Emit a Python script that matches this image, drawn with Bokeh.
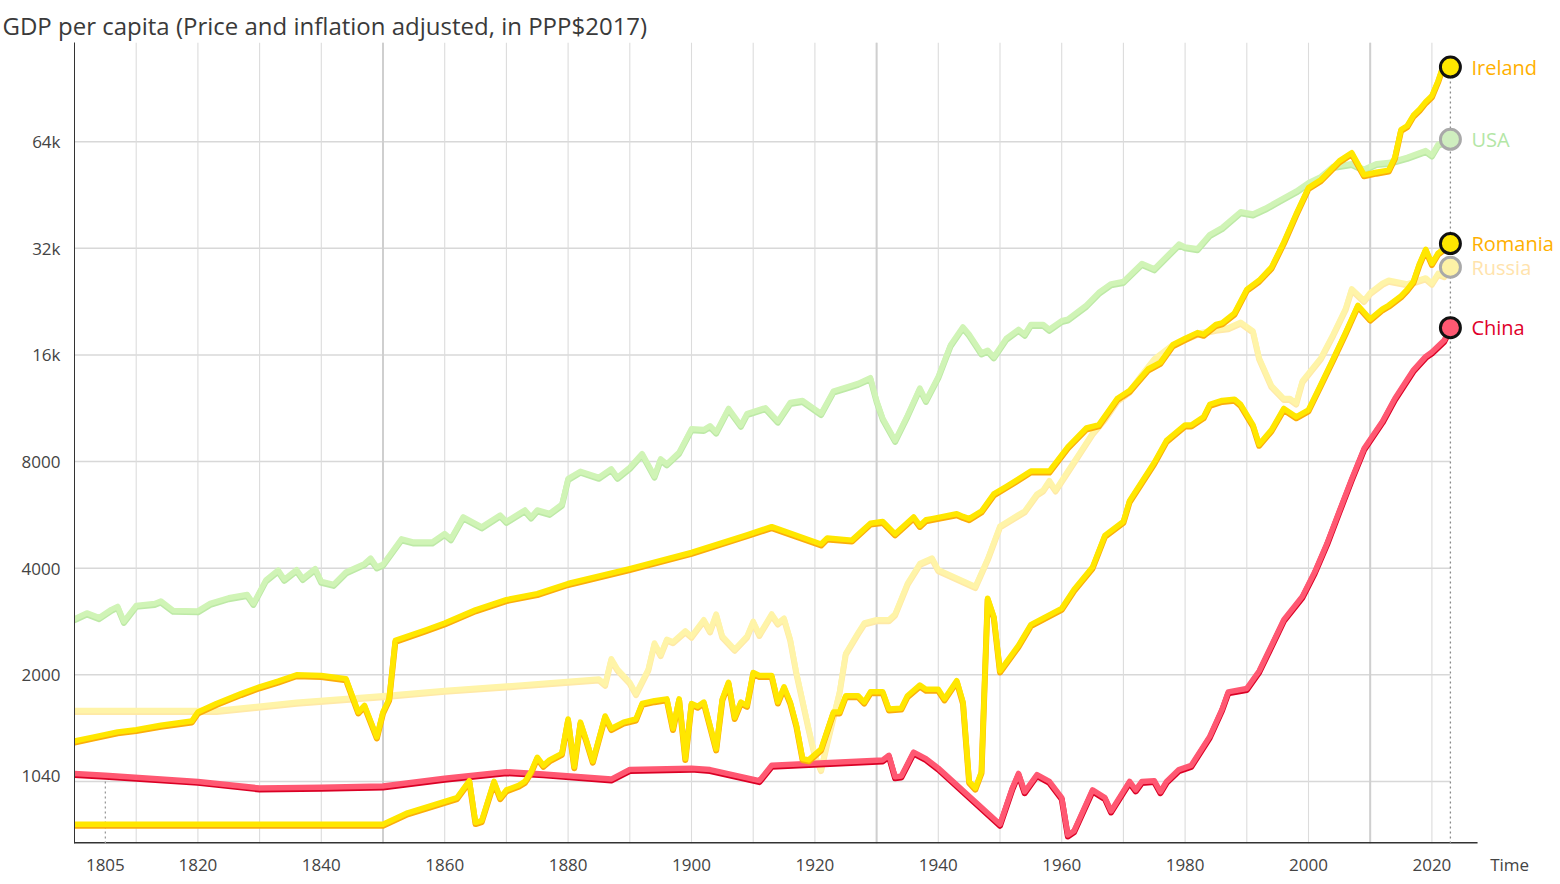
from bokeh.plotting import figure
from bokeh.models import FixedTicker, Range1d
from bokeh.core.properties import value
from bokeh.embed import file_html
from bokeh.resources import INLINE

# ---------------- data ----------------
ireland_years = [1800,1803,1807,1810,1814,1819,1820,1823,1827,1830,1833,1836,1840,1844,1846,1847,1849,1850,1851,1852,
                 1857,1860,1865,1870,1875,1880,1890,1900,1909,1913,1921,1922,1926,1929,1931,1933,1936,1937,1938,1939,
                 1943,1944,1945,1947,1949,1951,1955,1958,1961,1964,1966,1969,1971,1974,1976,1978,1980,1982,1983,1985,
                 1986,1988,1990,1992,1994,1996,1998,2000,2002,2005,2007,2009,2011,2013,2014,2015,2016,2017,2018,2019,
                 2020,2021,2022,2023]
ireland_gdp = [1300,1334,1380,1400,1440,1480,1570,1660,1770,1850,1920,2000,1990,1950,1570,1640,1335,1570,1710,2500,
               2680,2800,3050,3260,3390,3620,3990,4430,4970,5240,4680,4870,4800,5360,5420,5000,5580,5280,5480,5520,
               5700,5600,5520,5800,6480,6800,7520,7520,8800,9950,10150,12050,12700,14600,15250,17100,17800,18500,18300,19500,
               19700,21000,24500,26000,28300,33300,40000,47500,50000,56500,59600,51600,52500,53200,57800,69300,71000,76000,79000,83000,
               86300,95000,107000,104000]

romania_years = [1800,1850,1854,1862,1864,1865,1866,1868,1869,1870,1872,1873,1874,1875,1876,1877,1879,1880,1881,1882,
                 1883,1884,1886,1887,1889,1891,1892,1894,1896,1897,1898,1899,1900,1901,1902,1904,1905,1906,1907,1908,
                 1909,1910,1911,1913,1914,1915,1916,1917,1918,1919,1921,1923,1924,1925,1927,1928,1929,1931,1932,1934,
                 1935,1937,1938,1940,1941,1943,1944,1945,1946,1947,1948,1949,1950,1953,1955,1957,1960,1962,1965,1967,
                 1970,1971,1975,1977,1980,1981,1983,1984,1986,1988,1989,1991,1992,1994,1996,1998,2000,2002,2004,2006,
                 2008,2010,2012,2013,2015,2016,2017,2018,2019,2020,2021,2022,2023]
romania_gdp = [757,757,815,900,1005,765,775,1000,900,946,975,1000,1065,1170,1110,1150,1200,1500,1100,1470,
               1300,1140,1530,1410,1470,1500,1660,1690,1710,1410,1710,1160,1660,1630,1675,1235,1710,1905,1515,1675,
               1640,2030,1990,1990,1675,1850,1675,1440,1160,1150,1235,1570,1570,1745,1745,1675,1790,1790,1600,1610,
               1745,1870,1820,1820,1710,1925,1675,1000,957,1065,3290,2920,2050,2420,2770,2890,3080,3480,4030,4950,
               5420,6200,7950,9180,10150,10150,10700,11600,11900,12000,11600,10150,8950,9830,11300,10700,11200,13200,15600,18500,
               22100,20200,21600,22100,23500,24500,25800,29000,31800,29000,31000,32000,33000]

russia_years = [1800,1823,1836,1850,1860,1872,1885,1886,1887,1888,1890,1891,1893,1894,1895,1896,1897,1899,1900,1902,
                1903,1904,1905,1907,1909,1910,1911,1913,1914,1915,1916,1917,1919,1920,1921,1922,1924,1925,1927,1928,
                1930,1932,1933,1935,1937,1939,1940,1946,1948,1950,1951,1954,1956,1957,1958,1959,1961,1963,1965,1967,
                1969,1971,1973,1975,1978,1980,1982,1985,1987,1989,1991,1992,1994,1996,1997,1998,1999,2002,2004,2006,
                2007,2009,2010,2012,2013,2016,2019,2020,2021,2022,2023]
russia_gdp = [1585,1585,1673,1745,1807,1870,1945,1880,2220,2075,1905,1770,2075,2460,2280,2520,2480,2660,2570,2860,
              2660,2970,2570,2360,2570,2830,2600,2970,2800,2890,2520,2030,1410,1185,1080,1290,1790,2300,2630,2800,
              2860,2860,2970,3620,4120,4270,3960,3550,4250,5260,5390,5800,6480,6650,7070,6650,7520,8500,9620,10600,
              11900,12650,14100,15600,17100,17800,18400,18900,19100,19800,18700,15700,13100,12050,12050,11700,13500,15700,18300,21600,
              24600,22800,24000,25500,26000,25400,26400,25500,27200,26800,28300]

china_years = [1800,1805,1820,1830,1840,1850,1860,1870,1876,1887,1890,1900,1903,1911,1913,1931,1932,1933,1934,1936,
               1938,1940,1950,1952,1953,1954,1956,1958,1960,1961,1962,1965,1967,1968,1971,1972,1973,1975,1976,1977,
               1979,1981,1984,1986,1987,1990,1992,1994,1996,1999,2001,2003,2005,2007,2009,2012,2014,2017,2019,2020,
               2022,2023]
china_gdp = [1053,1040,1000,958,962,970,1020,1065,1050,1015,1080,1090,1080,1005,1110,1150,1185,1030,1035,1210,
             1160,1090,757,958,1053,935,1045,1000,900,706,725,946,900,825,1000,946,1000,1005,935,1000,
             1080,1110,1340,1600,1790,1830,2050,2420,2860,3330,3900,4700,5800,7140,8700,10400,12050,14500,15850,16300,
             17600,19100]

usa_years = [1800,1802,1804,1806,1807,1808,1810,1813,1814,1816,1820,1822,1825,1828,1829,1831,1833,1834,1836,1837,
             1839,1840,1842,1844,1847,1848,1849,1850,1853,1855,1858,1860,1861,1863,1866,1869,1870,1873,1874,1875,
             1877,1879,1880,1882,1885,1887,1888,1890,1892,1894,1895,1896,1898,1900,1902,1903,1904,1906,1908,1909,
             1912,1914,1916,1918,1921,1923,1926,1927,1929,1930,1931,1933,1935,1937,1938,1940,1942,1944,1945,1947,
             1948,1949,1951,1953,1954,1955,1957,1958,1960,1961,1964,1966,1968,1970,1973,1975,1979,1980,1982,1984,
             1986,1989,1991,1993,1995,1998,2000,2002,2004,2007,2009,2011,2013,2016,2019,2020,2021,2023]
usa_gdp = [2880,2990,2900,3060,3120,2830,3140,3180,3230,3040,3030,3180,3300,3370,3180,3700,3950,3720,3960,3740,
           3990,3670,3600,3900,4120,4270,4030,4100,4840,4740,4740,5010,4840,5580,5230,5650,5420,5840,5580,5840,
           5710,6060,7160,7510,7220,7630,7220,7700,8420,7280,8140,7880,8500,9900,9850,10100,9690,11300,10130,10930,
           11350,10400,11740,11900,10930,12650,13130,13300,13800,11900,10600,9180,10800,12900,11900,13900,17100,19200,18300,16200,
           16500,15800,17800,18900,18300,19500,19500,18900,20000,20200,22100,24000,25400,25800,29000,28000,32900,32300,31900,35000,
           36600,40600,40000,41500,43400,46400,49000,51000,54500,55500,53500,55500,55900,57800,60400,58700,62900,65000]

y_ticks = [1040, 2000, 4000, 8000, 16000, 32000, 64000]
y_tick_labels = ["1040", "2000", "4000", "8000", "16k", "32k", "64k"]
y_grid = [1000, 2000, 4000, 8000, 16000, 32000, 64000]
x_ticks = [1805, 1820, 1840, 1860, 1880, 1900, 1920, 1940, 1960, 1980, 2000, 2020]
x_grid = list(range(1810, 2021, 10))
x_grid_strong = [1850, 1930, 2010]
axis_title = "Time"
axis_title_year = 2032.6   # where the axis title sits on the time scale
axis_end_year = 2027.4
hover_year = 1805
current_year = 2023

# ---------------- styles ----------------
FONT = "Open Sans"
styles = {
    "USA":     dict(main="#d0f4b6", shadow="#bde9a6", label="#b3e6a6", ring="#a9a9a9", fill="#cfeebf"),
    "Russia":  dict(main="#fff4a8", shadow="#ffe9a6", label="#ffe3ac", ring="#a9a9a9", fill="#fdf2a6"),
    "China":   dict(main="#ff5872", shadow="#da0025", label="#e0002b", ring="#111111", fill="#ff5872"),
    "Romania": dict(main="#ffe700", shadow="#fbad0a", label="#ffb000", ring="#111111", fill="#ffe700"),
    "Ireland": dict(main="#ffe700", shadow="#fbad0a", label="#ffb000", ring="#111111", fill="#ffe700"),
}
series = [
    ("USA", usa_years, usa_gdp),
    ("Russia", russia_years, russia_gdp),
    ("China", china_years, china_gdp),
    ("Romania", romania_years, romania_gdp),
    ("Ireland", ireland_years, ireland_gdp),
]

W, H = 1556, 878
LEFT, TOP, BOTTOM = 74, 42, 29
PX_PER_YEAR = 6.17
x_start = 1800
x_end = x_start + (W - LEFT) / PX_PER_YEAR
y_lo, y_hi = 667.8, 122000

p = figure(width=W, height=H, output_backend="svg", toolbar_location=None,
           x_range=Range1d(x_start, x_end), y_range=Range1d(y_lo, y_hi), y_axis_type="log",
           min_border_left=LEFT, min_border_right=0, min_border_top=TOP, min_border_bottom=BOTTOM)
p.outline_line_color = None
p.xgrid.visible = False
p.ygrid.visible = False
p.background_fill_color = "white"
p.border_fill_color = "white"

# title
p.title.text = "GDP per capita (Price and inflation adjusted, in PPP$2017)"
p.title.text_font = FONT
p.title.text_font_size = "24px"
p.title.text_font_style = "normal"
p.title.text_color = "#3a3a3a"
p.title.align = "left"
p.title.offset = -72
p.title.standoff = 1

# grid (drawn manually so horizontal lines stop at the current year)
p.segment(x0=[x_start] * len(y_grid), x1=[current_year] * len(y_grid), y0=y_grid, y1=y_grid,
          line_color="#d8d8d8", line_width=1.5)
p.segment(x0=x_grid, x1=x_grid, y0=[y_lo] * len(x_grid), y1=[y_hi] * len(x_grid),
          line_color="#dcdcdc", line_width=1.1)
p.segment(x0=x_grid_strong, x1=x_grid_strong, y0=[y_lo] * len(x_grid_strong), y1=[y_hi] * len(x_grid_strong),
          line_color="#cfcfcf", line_width=2)

# x axis: the line stops before the "Time" title, which is carried as the last tick label
p.xaxis.ticker = FixedTicker(ticks=x_ticks + [axis_title_year])
p.xaxis.major_label_overrides = {axis_title_year: axis_title}
p.xaxis.axis_line_color = None
p.xaxis.major_tick_line_color = None
p.xaxis.minor_tick_line_color = None
p.xaxis.major_label_text_font = FONT
p.xaxis.major_label_text_font_size = "17px"
p.xaxis.major_label_text_color = "#444444"
p.xaxis.major_label_standoff = 3
p.line([x_start - 1, axis_end_year], [y_lo, y_lo], line_color="#333333", line_width=3)

p.yaxis.ticker = FixedTicker(ticks=y_ticks)
p.yaxis.major_label_overrides = {t: l for t, l in zip(y_ticks, y_tick_labels)}
p.yaxis.axis_line_color = "#333333"
p.yaxis.axis_line_width = 1
p.yaxis.major_tick_line_color = None
p.yaxis.minor_tick_line_color = None
p.yaxis.major_label_text_font = FONT
p.yaxis.major_label_text_font_size = "17px"
p.yaxis.major_label_text_color = "#444444"
p.yaxis.major_label_standoff = 8

# hover guide lines
china_at_hover = china_gdp[china_years.index(hover_year)]
p.line([hover_year, hover_year], [y_lo, china_at_hover], line_color="#9a9a9a", line_width=1.3, line_dash="2 3")
p.line([x_start, hover_year], [china_at_hover, china_at_hover], line_color="#9a9a9a", line_width=1.3, line_dash="2 3")
p.line([current_year, current_year], [y_lo, ireland_gdp[-1]], line_color="#8a8a8a", line_width=1.3, line_dash="2 3")

# lines
SHADOW = 0.9904
for name, yrs, vals in series:
    st = styles[name]
    p.line(yrs, [v * SHADOW for v in vals], line_color=st["shadow"], line_width=6,
           line_join="round", line_cap="round")
    p.line(yrs, vals, line_color=st["main"], line_width=5.5, line_join="round", line_cap="round")

# end markers + labels
for name, yrs, vals in series:
    st = styles[name]
    p.scatter([yrs[-1]], [vals[-1]], size=20, fill_color=st["fill"], line_color=st["ring"], line_width=3)
    p.text(x=[yrs[-1]], y=[vals[-1]], text=[name], x_offset=21, text_baseline="middle", text_align="left",
           text_font=value(FONT), text_font_size="20px", text_color=st["label"])

open("out.html", "w").write(file_html(p, INLINE))
